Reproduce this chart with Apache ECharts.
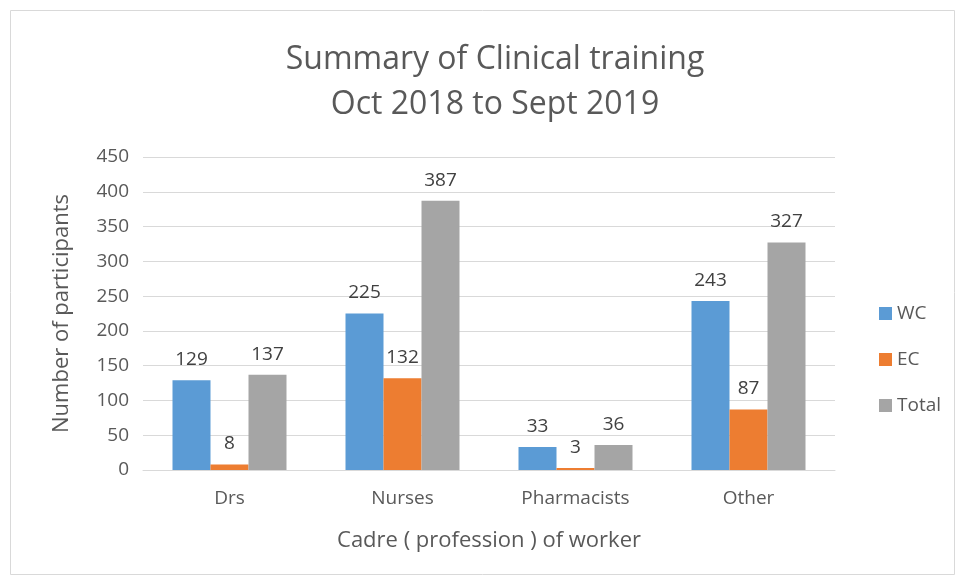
<!DOCTYPE html>
<html>
<head>
<meta charset="utf-8">
<script src="https://cdn.jsdelivr.net/npm/echarts@6/dist/echarts.min.js"></script>
<style>
  html, body { margin: 0; padding: 0; background: #fff; }
  #chart { width: 960px; height: 580px; }
</style>
</head>
<body>
<div id="chart"></div>
<script>
// data
var categories = ['Drs', 'Nurses', 'Pharmacists', 'Other'];
var wcValues = [129, 225, 33, 243];
var ecValues = [8, 132, 3, 87];
var totalValues = [137, 387, 36, 327];
var seriesNames = ['WC', 'EC', 'Total'];
var seriesColors = ['#5B9BD5', '#ED7D31', '#A5A5A5'];

var fontName = 'Open Sans';
var textColor = '#595959';

function makeBar(name, values, color) {     // one bar series
    return {
        name: name,
        type: 'bar',
        data: values,
        barWidth: 38,
        barGap: '0%',
        itemStyle: { color: color },
        label: {
            show: true,
            position: 'top',
            distance: 11,
            fontFamily: fontName,
            fontSize: 19,
            color: '#404040'
        }
    };
}

var chart = echarts.init(document.getElementById('chart'));
var option = {
    animation: false,
    textStyle: { fontFamily: fontName },
    graphic: [{
        type: 'rect',
        shape: { x: 10.5, y: 10.5, width: 944, height: 564 },
        style: { fill: 'none', stroke: '#D9D9D9', lineWidth: 1 }
    }],
    title: {
        text: 'Summary of Clinical training\nOct 2018 to Sept 2019',
        left: 490,
        textAlign: 'center',
        top: 32,
        textStyle: {
            fontFamily: fontName,
            fontWeight: 'normal',
            fontSize: 32,
            lineHeight: 45,
            color: textColor
        }
    },
    legend: {
        orient: 'vertical',
        left: 874,
        top: 299,
        itemGap: 27,
        itemWidth: 13,
        itemHeight: 13,
        icon: 'rect',
        data: seriesNames,
        textStyle: { fontFamily: fontName, fontSize: 19, color: textColor }
    },
    grid: {
        left: 143,
        right: 125,
        top: 157,
        bottom: 110
    },
    xAxis: {
        type: 'category',
        data: categories,
        name: 'Cadre ( profession ) of worker',
        nameLocation: 'middle',
        nameGap: 60,
        nameTextStyle: { fontFamily: fontName, fontSize: 22, color: textColor },
        axisLine: { lineStyle: { color: '#D9D9D9' } },
        axisTick: { show: false },
        axisLabel: { fontFamily: fontName, fontSize: 19, color: textColor, margin: 19 }
    },
    yAxis: {
        type: 'value',
        min: 0,
        max: 450,
        interval: 50,
        name: 'Number of participants',
        nameLocation: 'middle',
        nameGap: 70,
        nameTextStyle: { fontFamily: fontName, fontSize: 22, color: textColor },
        axisLine: { show: false },
        axisTick: { show: false },
        axisLabel: { fontFamily: fontName, fontSize: 19, color: textColor, margin: 14 },
        splitLine: { lineStyle: { color: '#D9D9D9' } }
    },
    series: [
        makeBar(seriesNames[0], wcValues, seriesColors[0]),
        makeBar(seriesNames[1], ecValues, seriesColors[1]),
        makeBar(seriesNames[2], totalValues, seriesColors[2])
    ]
};
chart.setOption(option);
</script>
</body>
</html>
